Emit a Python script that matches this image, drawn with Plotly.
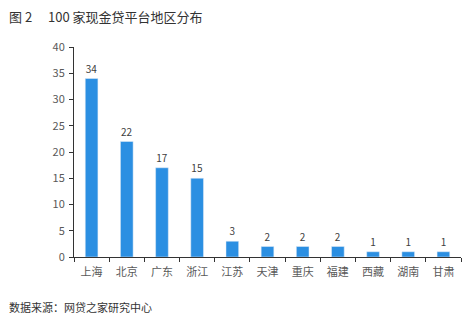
import plotly.graph_objects as go

regions = ["上海", "北京", "广东", "浙江", "江苏", "天津", "重庆", "福建", "西藏", "湖南", "甘肃"]
counts = [34, 22, 17, 15, 3, 2, 2, 2, 1, 1, 1]

font_family = "Noto Sans CJK SC, Microsoft YaHei, sans-serif"

fig = go.Figure(go.Bar(
    x=regions, y=counts,
    marker_color="#2b8fe2",
    text=[str(v) for v in counts],
    textposition="outside",
    textfont=dict(size=10, color="#404040"),
    cliponaxis=False,
    width=0.36,
))

fig.update_layout(
    width=472, height=321,
    margin=dict(l=74, r=11, t=47, b=64),
    paper_bgcolor="white", plot_bgcolor="white",
    font=dict(family=font_family, color="#595959", size=11),
    showlegend=False,
    annotations=[
        dict(text="图 2\u3000 100 家现金贷平台地区分布", xref="paper", yref="paper",
             x=-67/387, y=1 + 31/210, xanchor="left", yanchor="middle", showarrow=False,
             font=dict(size=13, color="#333333")),
        dict(text="数据来源：网贷之家研究中心", xref="paper", yref="paper",
             x=-67/387, y=-50/210, xanchor="left", yanchor="middle", showarrow=False,
             font=dict(size=11, color="#333333")),
    ],
)

fig.update_xaxes(
    showline=True, linecolor="#333333", linewidth=1,
    ticks="outside", tickson="boundaries", ticklen=4, tickcolor="#333333",
    ticklabelstandoff=5,
    tickfont=dict(size=11, color="#595959"),
    showgrid=False,
)
fig.update_yaxes(
    range=[0, 40], dtick=5,
    showline=True, linecolor="#333333", linewidth=1,
    ticks="outside", ticklen=4, tickcolor="#333333",
    ticklabelstandoff=2,
    tickfont=dict(size=11, color="#595959"),
    showgrid=False, zeroline=False,
)

fig.write_html("out.html")
